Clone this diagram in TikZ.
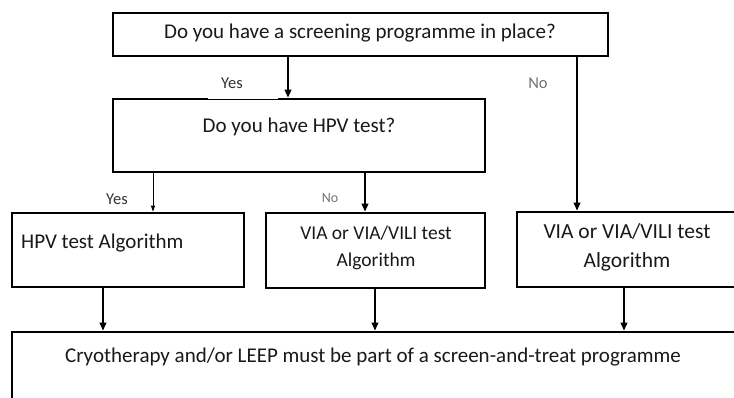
\documentclass[tikz,border=0pt]{standalone}
\usepackage{fontspec}
\setmainfont{Carlito}
\usetikzlibrary{arrows.meta}
\begin{document}
\begin{tikzpicture}[x=1pt,y=-1pt,
  box/.style={draw=black, line width=2.6pt, inner sep=0pt},
  arr/.style={line width=2pt, -{Triangle[length=8pt,width=6.5pt]}},
  thinarr/.style={line width=1pt, -{Triangle[length=6pt,width=4pt]}},
  txt/.style={font=\fontsize{21}{25}\selectfont, text=black!90, inner sep=0pt},
  midtxt/.style={font=\fontsize{19.5}{27}\selectfont, text=black!90, inner sep=0pt, align=center},
  rtxt/.style={font=\fontsize{21.5}{29}\selectfont, text=black!90, inner sep=0pt, align=center},
  yeslbl/.style={font=\fontsize{16.5}{18}\selectfont, text=black!80, inner sep=0pt},
  nolbl/.style={font=\fontsize{16.5}{18}\selectfont, text=black!55, inner sep=0pt}]
\useasboundingbox (0,0) rectangle (734,397);
\clip (0,0) rectangle (734,397);
\fill[white] (0,0) rectangle (734,397);
% boxes
\node[box, minimum width=495pt, minimum height=43pt] (top) at (360.5,34.5) {};
\node[box, minimum width=372pt, minimum height=73pt] (hpv) at (299,135.5) {};
\node[box, minimum width=232pt, minimum height=74pt] (left) at (128,250) {};
\node[box, minimum width=219pt, minimum height=75pt] (mid) at (375.5,250.5) {};
\node[box, minimum width=283pt, minimum height=75pt] (right) at (658.5,249.5) {};
\node[box, minimum width=788pt, minimum height=118pt] (bottom) at (406,391) {};
% texts
\node[txt] (toptxt) at (360,33) {Do you have a screening programme in place?};
\node[txt] (hpvtxt) at (299,127) {Do you have HPV test?};
\node[txt, anchor=west] (lefttxt) at (21,243) {HPV test Algorithm};
\node[midtxt] (midtxt) at (376,248) {VIA or VIA/VILI test\\Algorithm};
\node[rtxt] (righttxt) at (627,247) {VIA or VIA/VILI test\\Algorithm};
\node[txt] (bottxt) at (373,357) {Cryotherapy and/or LEEP must be part of a screen-and-treat programme};
% gap in the border under the first Yes label
\fill[white] (208,96.5) rectangle (278,99.3);
% labels
\node[yeslbl] (yes1) at (232,83) {Yes};
\node[nolbl] (no1) at (538,83) {No};
\node[yeslbl] (yes2) at (117,199) {Yes};
\node[nolbl, font=\fontsize{14}{16}\selectfont] (no2) at (330,198) {No};
% connector x positions
\coordinate (x1) at (288,0);
\coordinate (x2) at (577,0);
\coordinate (x3) at (153,0);
\coordinate (x4) at (365,0);
\coordinate (x5) at (103,0);
\coordinate (x6) at (375,0);
\coordinate (x7) at (624,0);
% connectors
\draw[arr] (top.south -| x1) -- (hpv.north -| x1);
\draw[arr] (top.south -| x2) -- (right.north -| x2);
\draw[thinarr] (hpv.south -| x3) -- (left.north -| x3);
\draw[arr] (hpv.south -| x4) -- (mid.north -| x4);
\draw[arr] (left.south -| x5) -- (bottom.north -| x5);
\draw[arr] (mid.south -| x6) -- (bottom.north -| x6);
\draw[arr] (right.south -| x7) -- (bottom.north -| x7);
\end{tikzpicture}
\end{document}
